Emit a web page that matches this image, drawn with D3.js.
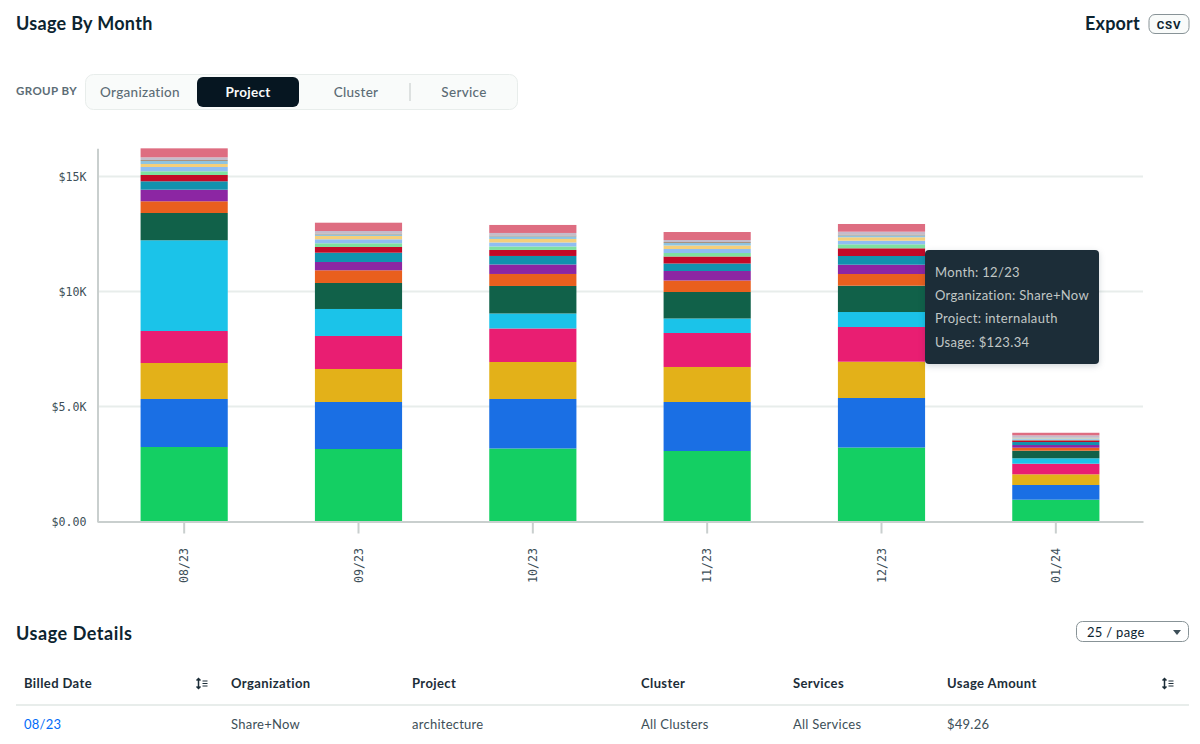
<!DOCTYPE html>
<html>
<head>
<meta charset="utf-8">
<script src="https://cdn.jsdelivr.net/npm/d3@7/dist/d3.min.js"></script>
<style>
html,body{margin:0;padding:0;background:#fff;overflow:hidden}
svg{display:block}
text{font-family:"Lato","Open Sans",sans-serif}
.axis text{font-family:"DejaVu Sans Mono",monospace;fill:#3d4f58}
</style>
</head>
<body>
<svg id="chart" width="1200" height="744"></svg>
<script>
const months = ["08/23","09/23","10/23","11/23","12/23","01/24"];
const yTicks = [0,5000,10000,15000];
const yTickLabels = ["$0.00","$5.0K","$10K","$15K"];
const groupOptions = ["Organization","Project","Cluster","Service"];
const tableHeaders = ["Billed Date","Organization","Project","Cluster","Services","Usage Amount"];
const tableRow = ["08/23","Share+Now","architecture","All Clusters","All Services","$49.26"];
const tooltipLines = ["Month: 12/23","Organization: Share+Now","Project: internalauth","Usage: $123.34"];

const project01 = [3239,3152,3174,3065,3217,948];
const project02 = [2087,2044,2152,2131,2152,639];
const project03 = [1565,1435,1609,1522,1578,465];
const project04 = [1391,1435,1457,1478,1509,461];
const project05 = [3944,1174,652,630,652,235];
const project06 = [1187,1130,1196,1152,1144,330];
const project07 = [509,552,522,500,509,130];
const project08 = [504,361,413,413,404,117];
const project09 = [365,404,370,326,378,130];
const project10 = [274,248,261,304,335,74];
const project11 = [161,161,152,152,174,30];
const project12 = [187,174,174,174,157,30];
const project13 = [130,143,152,152,148,22];
const project14 = [130,65,109,109,78,17];
const project15 = [43,43,43,43,43,13];
const project16 = [117,109,109,87,122,104];
const project17 = [391,361,348,348,335,113];
const seriesValues = [project01,project02,project03,project04,project05,project06,project07,project08,project09,project10,project11,project12,project13,project14,project15,project16,project17];
const seriesColors = ["#14cf63","#1a6fe4","#e3b119","#e91e72","#1bc3e9","#116149","#e95f1e","#8c26a3","#1192ae","#c20a27","#7fe0a0","#8fbdf2","#f5cf7a","#8fc4e0","#a8907c","#c4bccb","#de6d81"];

const svg = d3.select("#chart");
const x = d3.scaleBand().domain(months).range([97,1143]).paddingInner(0.5).paddingOuter(0.25);
const y = d3.scaleLinear().domain([0,16230]).range([521.5,148.2]);

const rows = months.map((m,i)=>{const r={month:m};seriesValues.forEach((s,k)=>r["s"+k]=s[i]);return r;});
const stack = d3.stack().keys(seriesValues.map((_,k)=>"s"+k))(rows);

// grid
svg.append("g").selectAll("line").data(yTicks.slice(1)).join("line")
  .attr("x1",97).attr("x2",1143).attr("y1",d=>y(d)).attr("y2",d=>y(d))
  .attr("stroke","#e8edeb").attr("stroke-width",2);

// bars
svg.append("g").selectAll("g").data(stack).join("g")
  .attr("fill",(d,i)=>seriesColors[i])
  .selectAll("rect").data(d=>d).join("rect")
  .attr("x",d=>x(d.data.month)).attr("width",x.bandwidth())
  .attr("y",d=>y(d[1])).attr("height",d=>y(d[0])-y(d[1]));

// axes
const yAxis = d3.axisLeft(y).tickValues(yTicks).tickFormat((d,i)=>yTickLabels[i]).tickSize(0).tickPadding(11);
const gy = svg.append("g").attr("class","axis").attr("transform","translate(97.5,0)").call(yAxis);
gy.selectAll("text").style("font-size","11.6px");
gy.select(".domain").attr("stroke","#c9cfce").attr("stroke-width",2);

const xAxis = d3.axisBottom(x).tickSizeInner(12).tickSizeOuter(0).tickPadding(0);
const gx = svg.append("g").attr("class","axis").attr("transform","translate(0,521.5)").call(xAxis);
gx.select(".domain").attr("stroke","#c9cfce").attr("stroke-width",2);
gx.selectAll(".tick line").attr("stroke","#c9cfce").attr("stroke-width",2);
gx.selectAll("text").style("font-size","11.6px")
  .attr("transform","translate(0,44) rotate(-90)").attr("text-anchor","middle").attr("dy","0.35em").attr("y",0);

// helper
function txt(s,px,py,size,weight,fill,anchor){
  return svg.append("text").text(s).attr("x",px).attr("y",py).attr("dy","0.35em")
    .style("font-size",size+"px").style("font-weight",weight).attr("fill",fill).attr("text-anchor",anchor||"start");
}
function box(px,py,w,h,r,fill,stroke){
  return svg.append("rect").attr("x",px).attr("y",py).attr("width",w).attr("height",h).attr("rx",r)
    .attr("fill",fill).attr("stroke",stroke||"none");
}

// heading
txt("Usage By Month",16,23.5,18,700,"#0c2430").style("letter-spacing","0.3px");
txt("Export",1085,23.5,18,700,"#0c2430").style("letter-spacing","0.2px");
box(1149,14.5,40,19,6,"#f9fbfa","#889397");
txt("CSV",1169,24.5,11.5,700,"#0c2430","middle").style("font-family","Roboto").style("letter-spacing","0.8px");

// group by
txt("GROUP BY",16,91,11.5,700,"#5c6c75").style("letter-spacing","0.4px");
box(85.5,74.5,432,35,8,"#f9fbfa","#e8edeb");
box(197,77,102,30,6,"#061621");
[140,248,356,464].forEach((cx,i)=>{
  txt(groupOptions[i],cx,92,13.5,i===1?700:500,i===1?"#f9fbfa":"#5c6c75","middle").style("letter-spacing","0.3px");
});
svg.append("line").attr("x1",410).attr("x2",410).attr("y1",83).attr("y2",101).attr("stroke","#c1c7c6");

// tooltip
box(925,250,174,114,4,"#1c2d38").style("filter","drop-shadow(0 2px 3px rgba(0,30,43,.18))");
[272,295,318,342].forEach((py,i)=>txt(tooltipLines[i],935,py,13,400,"#c1c7c6").style("letter-spacing","0.33px"));

// details
txt("Usage Details",16,633.5,18,700,"#0c2430").style("letter-spacing","0.55px");
box(1076.5,621.5,112,20,6,"#fff","#889397");
txt("25 / page",1087,632,13,400,"#0c2430").style("letter-spacing","0.3px");
svg.append("path").attr("d",d3.line()([[1173,630],[1181,630],[1177,635]])+"Z").attr("fill","#3d4f58");

const colX = [24,231,412,641,793,947];
tableHeaders.forEach((h,i)=>txt(h,colX[i],683,13,700,"#1c2d38").style("letter-spacing","0.4px"));
tableRow.forEach((v,i)=>txt(v,colX[i],724.5,13,400,i===0?"#016bf8":"#3d4f58").style("letter-spacing","0.25px"));
svg.append("line").attr("x1",16).attr("x2",1189).attr("y1",705).attr("y2",705).attr("stroke","#e8edeb").attr("stroke-width",2);

[196,1162].forEach(ix=>{
  const g = svg.append("g").attr("transform",`translate(${ix},677.5)`).attr("stroke","#1c2d38").attr("fill","none");
  g.append("path").attr("d","M2.5 1V11M0.5 3L2.5 1L4.5 3M0.5 9L2.5 11L4.5 9").attr("stroke-width",1.5);
  g.append("path").attr("d","M6.5 3.5H11.5M6.5 6H11.5M6.5 8.5H11.5").attr("stroke-width",1.1);
});
</script>
</body>
</html>
